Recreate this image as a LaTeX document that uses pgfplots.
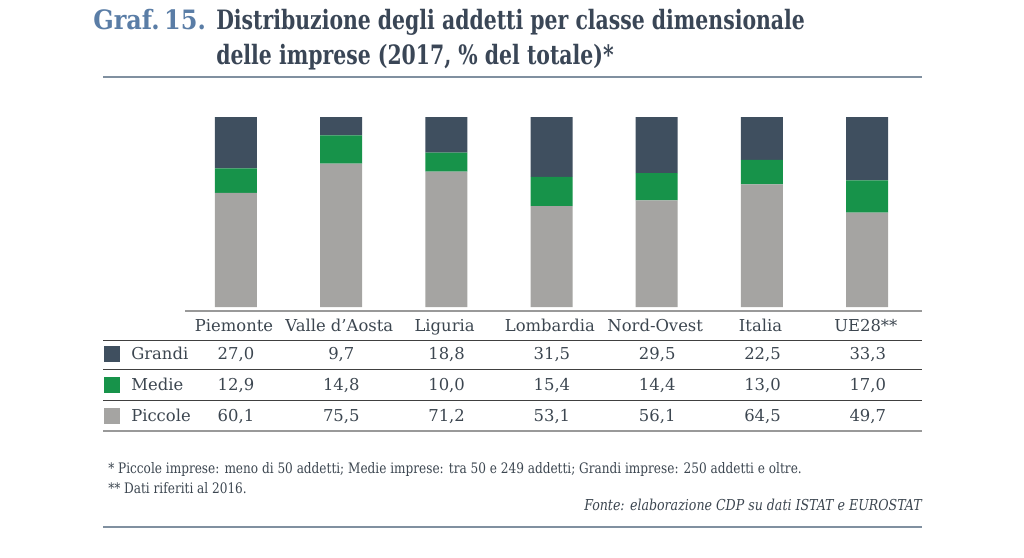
\documentclass[border=0pt]{standalone}
\usepackage{pgfplots}
\pgfplotsset{compat=1.18}
\usepackage{fontspec}
\setmainfont{DejaVu Serif}
\newfontfamily\titlefont{DejaVu Serif Condensed}[FakeStretch=0.85]
\newfontfamily\graffont{DejaVu Serif Condensed}
\newfontfamily\notefont{DejaVu Serif Condensed}[FakeStretch=0.93]
\definecolor{grandi}{HTML}{3F4F5F}
\definecolor{medie}{HTML}{17934A}
\definecolor{piccole}{HTML}{A5A4A2}
\definecolor{titblue}{HTML}{5A7DA6}
\definecolor{titdark}{HTML}{3A4656}
\definecolor{txt}{HTML}{3C4650}
\definecolor{rule}{HTML}{8090A0}
\begin{document}
\begin{tikzpicture}
\path (0,0) rectangle (768pt,-417.75pt);
\begin{axis}[
  at={(137.51pt,-230.25pt)}, anchor=south west,
  scale only axis, width=552.3pt, height=142.5pt,
  xmin=-0.5, xmax=6.5, ymin=0, ymax=100,
  axis lines=none, ticks=none,
  ybar stacked, bar width=31.5pt,
]
\addplot[fill=piccole, draw=none] coordinates {(0,60.1) (1,75.5) (2,71.2) (3,53.1) (4,56.1) (5,64.5) (6,49.7)};
\addplot[fill=medie, draw=none] coordinates {(0,12.9) (1,14.8) (2,10.0) (3,15.4) (4,14.4) (5,13.0) (6,17.0)};
\addplot[fill=grandi, draw=none] coordinates {(0,27.0) (1,9.7) (2,18.8) (3,31.5) (4,29.5) (5,22.5) (6,33.3)};
\end{axis}
\begin{scope}[x=0.75pt,y=-0.75pt]
% title
\node[anchor=base west, inner sep=0, font=\graffont\bfseries\fontsize{20}{22}\selectfont, text=titblue] at (93,29) {Graf.\,15.};
\node[anchor=base west, inner sep=0, font=\titlefont\bfseries\fontsize{20}{22}\selectfont, text=titdark] at (216,29) {Distribuzione degli addetti per classe dimensionale};
\node[anchor=base west, inner sep=0, font=\titlefont\bfseries\fontsize{20}{22}\selectfont, text=titdark] at (216,64) {delle imprese (2017, \% del totale)*};
\draw[rule, line width=1.1pt] (103,77) -- (922,77);
% table rules
\draw[gray!80, line width=1.2pt] (185,311) -- (922,311);
\draw[black!75, line width=0.6pt] (103,340) -- (922,340);
\draw[black!75, line width=0.6pt] (103,369) -- (922,369);
\draw[black!75, line width=0.6pt] (103,400) -- (922,400);
\draw[gray!80, line width=1.2pt] (103,431) -- (922,431);
% header
\foreach \n [count=\i from 0] in {Piemonte,Valle d'Aosta,Liguria,Lombardia,Nord-Ovest,Italia,UE28**}
  \node[anchor=base, inner sep=0, font=\fontsize{12.3}{14}\selectfont, text=txt] at (234+105.3*\i,331) {\n};
\foreach \v [count=\i from 0] in {27{,}0,9{,}7,18{,}8,31{,}5,29{,}5,22{,}5,33{,}3}
  \node[anchor=base, inner sep=0, font=\fontsize{12.3}{14}\selectfont, text=txt] at (236+105.3*\i,359) {\v};
\foreach \v [count=\i from 0] in {12{,}9,14{,}8,10{,}0,15{,}4,14{,}4,13{,}0,17{,}0}
  \node[anchor=base, inner sep=0, font=\fontsize{12.3}{14}\selectfont, text=txt] at (236+105.3*\i,390) {\v};
\foreach \v [count=\i from 0] in {60{,}1,75{,}5,71{,}2,53{,}1,56{,}1,64{,}5,49{,}7}
  \node[anchor=base, inner sep=0, font=\fontsize{12.3}{14}\selectfont, text=txt] at (236+105.3*\i,421) {\v};
% legend
\fill[grandi] (104,346) rectangle (120,362);
\fill[medie] (104,377) rectangle (120,393);
\fill[piccole] (104,408) rectangle (120,424);
\node[anchor=base west, inner sep=0, font=\fontsize{12.3}{14}\selectfont, text=txt] at (131,359) {Grandi};
\node[anchor=base west, inner sep=0, font=\fontsize{12.3}{14}\selectfont, text=txt] at (131,390) {Medie};
\node[anchor=base west, inner sep=0, font=\fontsize{12.3}{14}\selectfont, text=txt] at (131,421) {Piccole};
% footnotes
\node[anchor=base west, inner sep=0, font=\notefont\fontsize{10.85}{12}\selectfont, text=txt] at (108,473) {* Piccole imprese: meno di 50 addetti; Medie imprese: tra 50 e 249 addetti; Grandi imprese: 250 addetti e oltre.};
\node[anchor=base west, inner sep=0, font=\notefont\fontsize{10.85}{12}\selectfont, text=txt] at (108,493) {** Dati riferiti al 2016.};
\node[anchor=base east, inner sep=0, font=\notefont\itshape\fontsize{11.3}{12}\selectfont, text=txt] at (922,510) {Fonte: elaborazione CDP su dati ISTAT e EUROSTAT};
\draw[rule, line width=1.1pt] (103,527) -- (922,527);
\end{scope}
\end{tikzpicture}
\end{document}
